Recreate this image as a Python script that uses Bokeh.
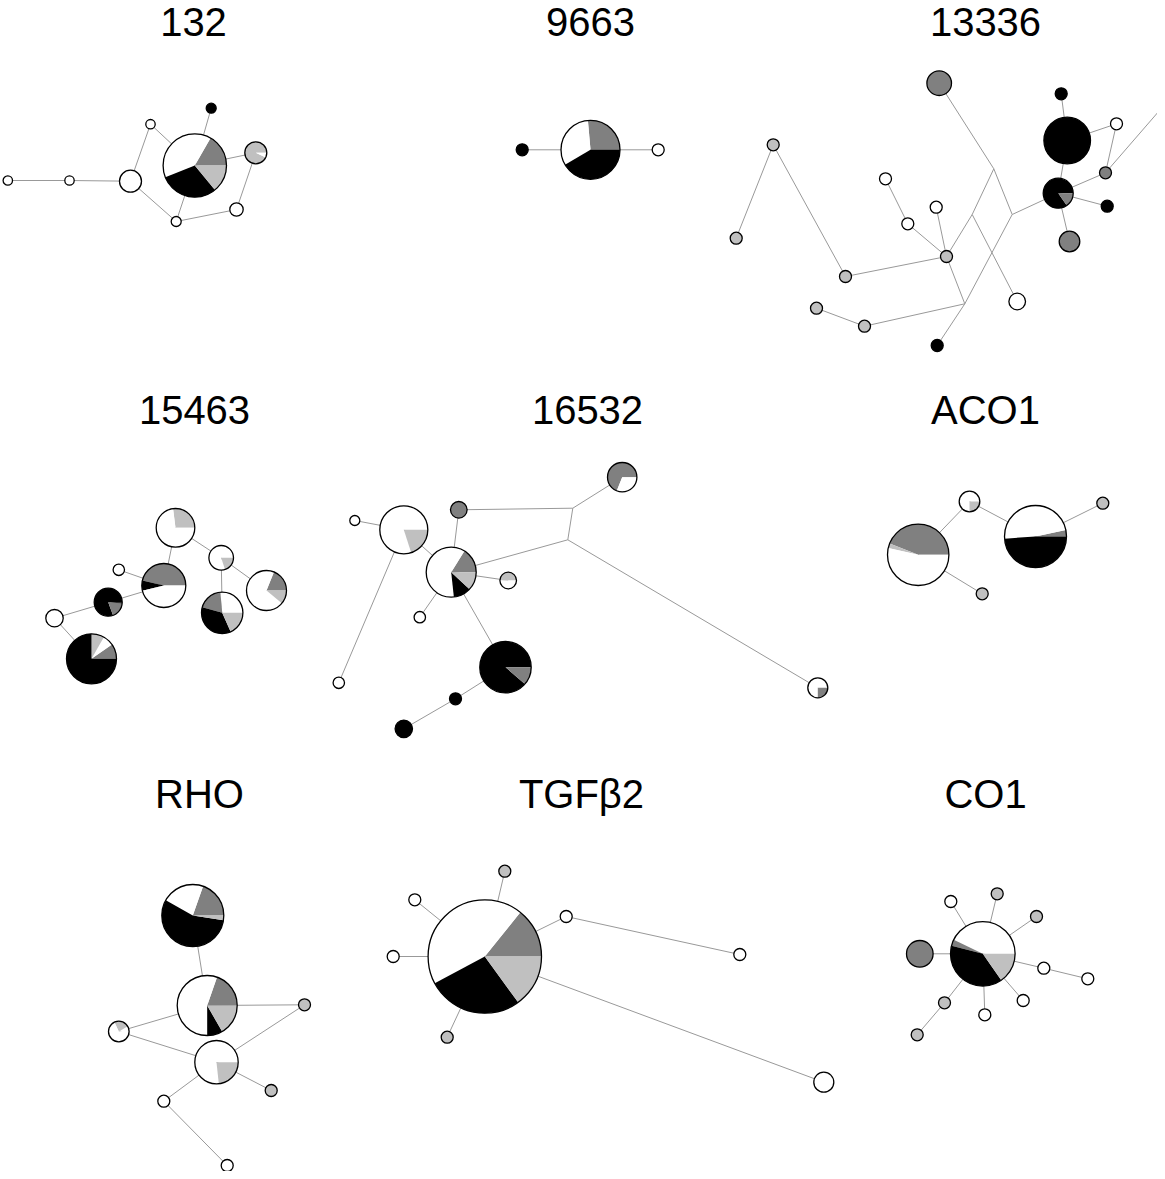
from bokeh.plotting import figure
from bokeh.models import Range1d
from bokeh.core.properties import value
from bokeh.embed import file_html
from bokeh.resources import INLINE
import math

# ---------------- data (positions in picture pixels, y downward) ----------------
COLORS = {"W": "#ffffff", "K": "#000000", "D": "#808080", "L": "#c0c0c0"}

titles = ["132", "9663", "13336", "15463", "16532", "ACO1", "RHO", "TGF\u03b22", "CO1"]
title_x = [193, 590, 985, 194, 587, 985, 199, 581, 985]
title_base = [21, 21, 21, 409, 409, 409, 793, 793, 793]

# panel 132
p132_x = [7.3, 69, 130, 150, 194.3, 210.7, 255.3, 236, 175.7]
p132_y = [180, 180, 180.7, 123.7, 165, 107.7, 152.3, 209, 221]
p132_r = [4.7, 4.7, 11, 4.7, 31.7, 5, 11, 6.7, 5]
p132_s = [[("W", 1)], [("W", 1)], [("W", 1)], [("W", 1)],
          [("D", .167), ("W", .393), ("K", .3), ("L", .14)],
          [("K", 1)], [("L", .93), ("W", .07)], [("W", 1)], [("W", 1)]]
p132_e = [(0, 1), (1, 2), (2, 3), (3, 4), (2, 8), (8, 4), (8, 7), (7, 6), (6, 4), (4, 5)]

# panel 9663
p9663_x = [521.7, 590, 657.7]
p9663_y = [149.3, 149.3, 149.3]
p9663_r = [6, 29.5, 6]
p9663_s = [[("K", 1)], [("D", .264), ("W", .32), ("K", .416)], [("W", 1)]]
p9663_e = [(0, 1), (1, 2)]

# panel 13336
p13336_x = [938.7, 1060.7, 1066.7, 1116, 1105, 1057.7, 1106.7, 1069, 1011.7, 993.3, 971.7, 964.3,
            946, 907.3, 885, 935.7, 845, 772.7, 735.7, 864, 816, 936.7, 1016.7, 1185]
p13336_y = [82.7, 93.3, 140, 123.3, 172.3, 192.7, 205.7, 241, 214, 168.3, 214, 303.3,
            256, 223.3, 178.3, 206.7, 276, 144.3, 237.7, 325.7, 307.7, 345, 301, 80]
p13336_r = [12.3, 6, 23.3, 6, 6, 15, 6, 10.3, 0, 0, 0, 0,
            6, 6, 6, 6, 6, 6, 6, 6, 6, 6, 8.3, 0]
p13336_s = [[("D", 1)], [("K", 1)], [("K", 1)], [("W", 1)], [("D", 1)],
            [("K", .847), ("D", .153)], [("K", 1)], [("D", 1)], [], [], [], [],
            [("L", 1)], [("W", 1)], [("W", 1)], [("W", 1)], [("L", 1)], [("L", 1)],
            [("L", 1)], [("L", 1)], [("L", 1)], [("K", 1)], [("W", 1)], []]
p13336_e = [(1, 2), (2, 3), (2, 5), (3, 4), (5, 4), (5, 6), (5, 7), (5, 8), (8, 9), (9, 0),
            (9, 10), (10, 12), (10, 22), (8, 11), (11, 21), (12, 11), (12, 16), (12, 13),
            (12, 15), (13, 14), (16, 17), (17, 18), (11, 19), (19, 20), (4, 23)]

# panel 15463
p15463_x = [175, 220.7, 221.7, 266, 163.3, 118.3, 107.7, 54, 91]
p15463_y = [527.3, 557.3, 612.3, 590, 585, 569.3, 601.7, 617.7, 658.3]
p15463_r = [19.3, 12.3, 20.7, 20, 22, 5.7, 14, 8.7, 25]
p15463_s = [[("L", .27), ("W", .73)], [("W", .8), ("L", .2)],
            [("W", .264), ("D", .192), ("K", .361), ("L", .183)],
            [("D", .189), ("W", .7), ("L", .111)],
            [("D", .464), ("K", .075), ("W", .461)], [("W", 1)],
            [("K", .806), ("D", .18), ("K", .014)], [("W", 1)],
            [("D", .097), ("W", .07), ("L", .083), ("K", .75)]]
p15463_e = [(0, 4), (0, 1), (1, 2), (1, 3), (4, 5), (4, 6), (6, 7), (7, 8)]

# panel 16532
p16532_x = [621.7, 572.3, 567.3, 458.3, 403.3, 354.3, 338.3, 450.7, 507.7, 419.3, 505, 455, 403.3, 817.3]
p16532_y = [476.7, 507.7, 539.3, 509.3, 529.3, 520, 682.3, 571.7, 580, 616.7, 666.7, 698.3, 728.3, 687.3]
p16532_r = [14.7, 0, 0, 8.3, 24, 5, 5.7, 25, 8.3, 5.7, 25.7, 6, 8.7, 10]
p16532_s = [[("D", .69), ("W", .31)], [], [], [("D", 1)], [("W", .8), ("L", .2)],
            [("W", 1)], [("W", 1)], [("D", .161), ("W", .606), ("K", .114), ("L", .119)],
            [("L", .5), ("W", .5)], [("W", 1)], [("K", .886), ("D", .114)],
            [("K", 1)], [("K", 1)], [("W", .75), ("D", .25)]]
p16532_e = [(4, 5), (4, 6), (4, 7), (7, 3), (7, 2), (7, 8), (7, 9), (7, 10), (10, 11),
            (11, 12), (1, 3), (1, 0), (1, 2), (2, 13)]

# panel ACO1
pACO1_x = [917.7, 969, 1035, 1102.3, 981.7]
pACO1_y = [554.3, 501, 536, 502.7, 593.3]
pACO1_r = [30.7, 10.3, 31, 6, 6]
pACO1_s = [[("D", .44), ("L", .025), ("W", .535)], [("W", .75), ("L", .25)],
           [("D", .033), ("W", .478), ("K", .489)], [("L", 1)], [("L", 1)]]
pACO1_e = [(0, 1), (1, 2), (2, 3), (0, 4)]

# panel RHO
pRHO_x = [192.3, 206.7, 216, 118.3, 304, 270.7, 163.3, 226.7]
pRHO_y = [915, 1005, 1061.7, 1031, 1004.3, 1090, 1100.7, 1165]
pRHO_r = [31, 30, 21.7, 10.3, 6, 6, 6, 6]
pRHO_s = [[("D", .196), ("W", .222), ("K", .558), ("L", .024)],
          [("D", .197), ("W", .553), ("K", .083), ("L", .167)],
          [("W", .767), ("L", .233)], [("W", .083), ("L", .236), ("W", .681)],
          [("L", 1)], [("L", 1)], [("W", 1)], [("W", 1)]]
pRHO_e = [(0, 1), (1, 3), (1, 4), (3, 2), (2, 4), (2, 5), (2, 6), (6, 7)]

# panel TGFb2
pTGF_x = [484.3, 504.3, 414.3, 392.7, 446.7, 565.7, 739.3, 823.3]
pTGF_y = [956, 870.7, 899.3, 956, 1036.7, 916, 954, 1081.7]
pTGF_r = [56.7, 6, 6, 6, 6, 6, 6, 10]
pTGF_s = [[("D", .142), ("W", .436), ("K", .272), ("L", .15)], [("L", 1)], [("W", 1)],
          [("W", 1)], [("L", 1)], [("W", 1)], [("W", 1)], [("W", 1)]]
pTGF_e = [(0, 1), (0, 2), (0, 3), (0, 4), (0, 5), (5, 6), (0, 7)]

# panel CO1
pCO1_x = [982.3, 919.3, 950.3, 996.7, 1036, 1043.3, 1087.3, 1022.7, 984.3, 944, 916.7]
pCO1_y = [953.3, 953.3, 901, 893.3, 916, 967.7, 978.3, 1000, 1014.3, 1002.3, 1034.3]
pCO1_r = [32.3, 13.3, 6, 6, 6, 6, 6, 6, 6, 6, 6]
pCO1_s = [[("W", .428), ("D", .032), ("K", .387), ("L", .153)], [("D", 1)], [("W", 1)],
          [("L", 1)], [("L", 1)], [("W", 1)], [("W", 1)], [("W", 1)], [("W", 1)],
          [("L", 1)], [("L", 1)]]
pCO1_e = [(0, 1), (0, 2), (0, 3), (0, 4), (0, 5), (5, 6), (0, 7), (0, 8), (0, 9), (9, 10)]

panels = [
    (p132_x, p132_y, p132_r, p132_s, p132_e),
    (p9663_x, p9663_y, p9663_r, p9663_s, p9663_e),
    (p13336_x, p13336_y, p13336_r, p13336_s, p13336_e),
    (p15463_x, p15463_y, p15463_r, p15463_s, p15463_e),
    (p16532_x, p16532_y, p16532_r, p16532_s, p16532_e),
    (pACO1_x, pACO1_y, pACO1_r, pACO1_s, pACO1_e),
    (pRHO_x, pRHO_y, pRHO_r, pRHO_s, pRHO_e),
    (pTGF_x, pTGF_y, pTGF_r, pTGF_s, pTGF_e),
    (pCO1_x, pCO1_y, pCO1_r, pCO1_s, pCO1_e),
]

# ---------------- figure ----------------
H_IMG = 1179
W, H = 1157, 1171
p = figure(width=W, height=H, output_backend="svg", toolbar_location=None,
           x_range=Range1d(0, W), y_range=Range1d(H_IMG - H, H_IMG),
           min_border=0)
p.axis.visible = False
p.grid.visible = False
p.outline_line_color = None
p.background_fill_color = "white"


def fy(v):
    return H_IMG - v


seg = dict(x0=[], y0=[], x1=[], y1=[])
wed = dict(x=[], y=[], r=[], a0=[], a1=[], c=[])
full = dict(x=[], y=[], r=[], c=[])
outl = dict(x=[], y=[], r=[])

for xs, ys, rs, ss, es in panels:
    for a, b in es:
        seg["x0"].append(xs[a]); seg["y0"].append(fy(ys[a]))
        seg["x1"].append(xs[b]); seg["y1"].append(fy(ys[b]))
    for x, y, r, sl in zip(xs, ys, rs, ss):
        if r <= 0 or not sl:
            continue
        if len(sl) == 1:
            full["x"].append(x); full["y"].append(fy(y)); full["r"].append(r)
            full["c"].append(COLORS[sl[0][0]])
        else:
            tot = sum(f for _, f in sl)
            ang = 0.0
            for c, f in sl:
                a1 = ang + 2 * math.pi * f / tot
                wed["x"].append(x); wed["y"].append(fy(y)); wed["r"].append(r)
                wed["a0"].append(ang); wed["a1"].append(a1); wed["c"].append(COLORS[c])
                ang = a1
        outl["x"].append(x); outl["y"].append(fy(y)); outl["r"].append(r)

p.segment(x0="x0", y0="y0", x1="x1", y1="y1", source=seg, line_color="#999999", line_width=1)
p.circle(x="x", y="y", radius="r", fill_color="c", line_color=None, source=full)
p.wedge(x="x", y="y", radius="r", start_angle="a0", end_angle="a1", fill_color="c",
        line_color=None, direction="anticlock", source=wed)
p.circle(x="x", y="y", radius="r", fill_color=None, line_color="black", line_width=1.3, source=outl)

p.text(x=title_x, y=[fy(v) for v in title_base], text=titles,
       text_font=value("Liberation Sans"), text_font_size="40px",
       text_align="center", text_baseline="alphabetic", text_color="black")

open("out.html", "w").write(file_html(p, INLINE))
